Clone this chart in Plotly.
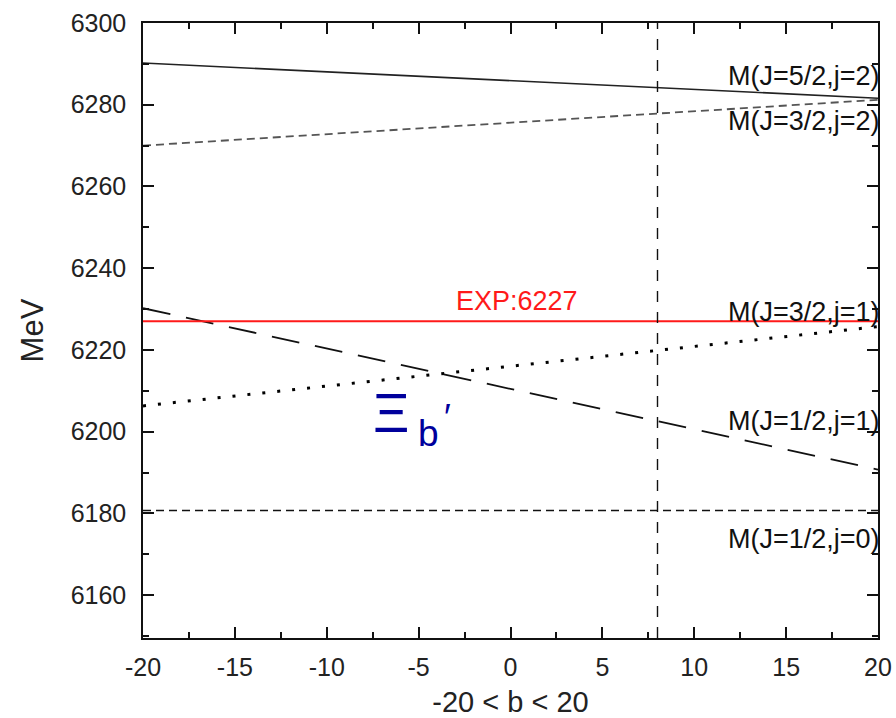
import plotly.graph_objects as go

# b parameter range and mass curves (MeV)
b_vals = [-20, 20]
m_52_j2 = [6290.2, 6281.6]
m_32_j2 = [6270.0, 6281.2]
m_32_j1 = [6206.3, 6225.7]
m_12_j1 = [6230.2, 6190.7]
m_12_j0 = [6180.7, 6180.7]
exp_mass = 6227
b_mark = 8

x_ticks = [-20, -15, -10, -5, 0, 5, 10, 15, 20]
y_ticks = [6160, 6180, 6200, 6220, 6240, 6260, 6280, 6300]

labels = ["M(J=5/2,j=2)", "M(J=3/2,j=2)", "M(J=3/2,j=1)", "M(J=1/2,j=1)", "M(J=1/2,j=0)"]
label_y = [6287.1, 6275.9, 6229.2, 6202.6, 6173.7]

FONT = "Liberation Sans, Arial, sans-serif"

fig = go.Figure()

curves = [
    (m_52_j2, dict(color="#222222", width=1.6, dash="solid")),
    (m_32_j2, dict(color="#555555", width=1.8, dash="8px,5px")),
    (m_32_j1, dict(color="#000000", width=3, dash="3px,12px")),
    (m_12_j1, dict(color="#111111", width=1.8, dash="28px,16px")),
    (m_12_j0, dict(color="#111111", width=1.4, dash="8px,5px")),
]
for ys, ln in curves:
    fig.add_trace(go.Scatter(x=b_vals, y=ys, mode="lines", line=ln,
                             showlegend=False, hoverinfo="skip"))

# experimental value
fig.add_trace(go.Scatter(x=b_vals, y=[exp_mass, exp_mass], mode="lines",
                         line=dict(color="#ff1a1a", width=2),
                         showlegend=False, hoverinfo="skip"))

# vertical marker at b = 8
fig.add_trace(go.Scatter(x=[b_mark, b_mark], y=[6149.5, 6300], mode="lines",
                         line=dict(color="#111111", width=1.4, dash="11px,10px"),
                         showlegend=False, hoverinfo="skip"))

for txt, yy in zip(labels, label_y):
    fig.add_annotation(x=20, y=yy, xref="x", yref="y", text=txt, showarrow=False,
                       xanchor="right", yanchor="middle", xshift=4,
                       font=dict(family=FONT, size=27, color="#111111"))

fig.add_annotation(x=0.35, y=6231.9, xref="x", yref="y", text="EXP:%d" % exp_mass,
                   showarrow=False, xanchor="center", yanchor="middle",
                   font=dict(family=FONT, size=27, color="#ff1a1a"))

blue = "#00009c"
fig.add_annotation(x=-6.5, y=6204.6, xref="x", yref="y", text="Ξ", showarrow=False,
                   xanchor="center", yanchor="middle",
                   font=dict(family=FONT, size=56, color=blue))
fig.add_annotation(x=-4.44, y=6199.6, xref="x", yref="y", text="b", showarrow=False,
                   xanchor="center", yanchor="middle",
                   font=dict(family=FONT, size=37, color=blue))
fig.add_annotation(x=-3.45, y=6203.5, xref="x", yref="y", text="′", showarrow=False,
                   xanchor="center", yanchor="middle",
                   font=dict(family=FONT, size=36, color=blue))

axis_common = dict(showline=True, linecolor="#111111", linewidth=1.5, mirror="ticks",
                   ticks="inside", tickcolor="#111111", tickwidth=1.5, ticklen=11,
                   showgrid=False, zeroline=False, automargin=False,
                   tickfont=dict(family=FONT, size=25, color="#222222"))

fig.update_xaxes(range=[-20, 20], tickvals=x_ticks, ticktext=[str(v) for v in x_ticks],
                 minor=dict(ticks="inside", dtick=2.5, tick0=-20, ticklen=6, tickwidth=1.5,
                            tickcolor="#111111", showgrid=False),
                 ticklabelstandoff=6,
                 title=dict(text="-20 < b < 20", font=dict(family=FONT, size=29, color="#222222"),
                            standoff=14),
                 **axis_common)
fig.update_yaxes(range=[6149.5, 6300], tickvals=y_ticks, ticktext=[str(v) for v in y_ticks],
                 minor=dict(ticks="inside", dtick=10, tick0=6150, ticklen=6, tickwidth=1.5,
                            tickcolor="#111111", showgrid=False),
                 ticklabelstandoff=10,
                 title=dict(text="MeV", font=dict(family=FONT, size=31, color="#222222"),
                            standoff=18),
                 **axis_common)

fig.update_layout(width=896, height=718, margin=dict(l=143, r=18, t=23, b=80),
                  paper_bgcolor="white", plot_bgcolor="white")

fig.write_html("out.html")
